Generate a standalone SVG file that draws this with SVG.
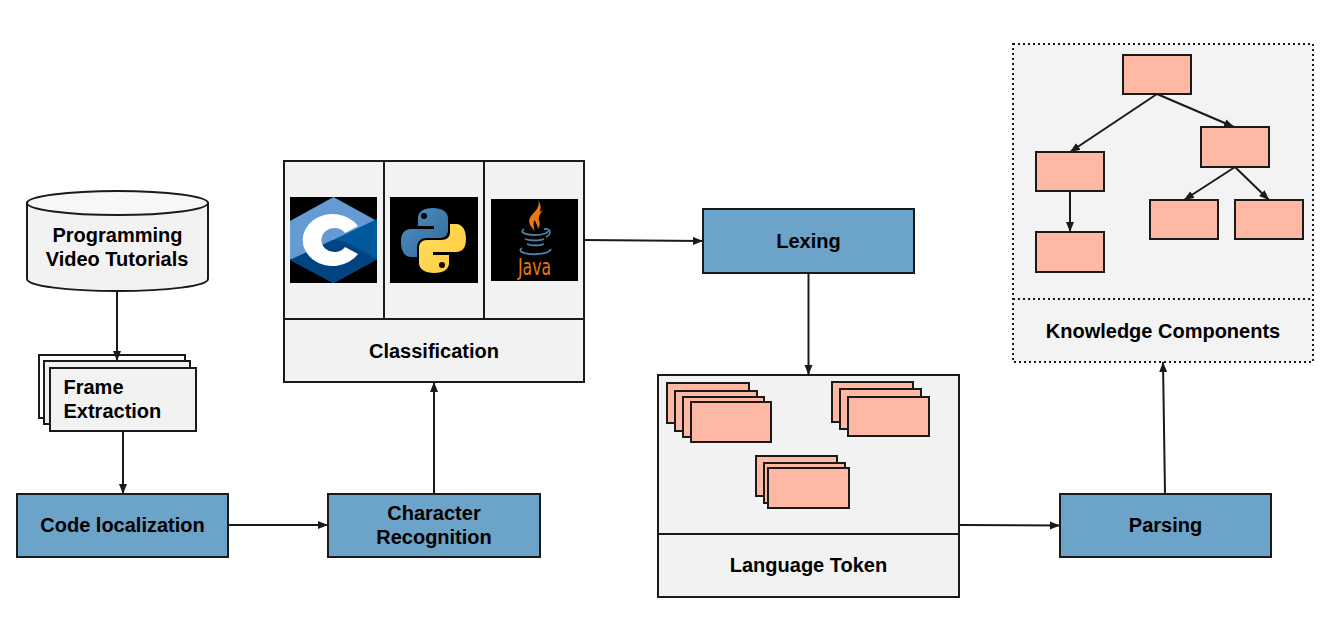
<svg xmlns="http://www.w3.org/2000/svg" width="1335" height="617" viewBox="0 0 1335 617">
<style>
.n{fill:#f2f2f2;stroke:#1a1a1a;stroke-width:2}
.b{fill:#6ba3c9;stroke:#1a1a1a;stroke-width:2}
.s{fill:#ffb8a3;stroke:#1a1a1a;stroke-width:2}
.d{fill:#f3f3f3;stroke:#1a1a1a;stroke-width:2;stroke-dasharray:2 3}
.l{fill:none;stroke:#1a1a1a;stroke-width:2}
.c{stroke:#1a1a1a;stroke-width:2;fill:none;marker-end:url(#a)}
text{font-family:"Liberation Sans",Arial,sans-serif;font-weight:700;font-size:20px;fill:#000;text-anchor:middle}
</style>
<defs>
<marker id="a" markerUnits="userSpaceOnUse" markerWidth="11" markerHeight="9" refX="10" refY="4" orient="auto"><path d="M0 0L10 4L0 8Z" fill="#1a1a1a"/></marker>
<linearGradient id="pb" x1="0" y1="0" x2="1" y2="1"><stop offset="0" stop-color="#4f8fc4"/><stop offset="1" stop-color="#306998"/></linearGradient>
<linearGradient id="py" x1="0" y1="0" x2="1" y2="1"><stop offset="0" stop-color="#ffe060"/><stop offset="1" stop-color="#ffc93a"/></linearGradient>
</defs>
<rect width="1335" height="617" fill="#fff"/>
<g id="tutorials">
<path class="n" d="M27 203V279C27 286 68 291 117.500 291S208 286 208 279V203Z"/>
<ellipse class="n" cx="117.500" cy="203" rx="90.500" ry="12" style="fill:#f7f7f7"/>
<text x="117.500" y="242">Programming</text><text x="117" y="266">Video Tutorials</text>
</g>
<g id="frame-extraction">
<rect class="n" x="39" y="355" width="146" height="63" style="fill:#fff"/>
<rect class="n" x="44" y="361" width="146" height="63" style="fill:#edf0f0"/>
<rect class="n" x="50" y="368" width="146" height="63"/>
<text x="63.500" y="394" style="text-anchor:start">Frame</text><text x="63.500" y="418" style="text-anchor:start">Extraction</text>
</g>
<g id="code-localization"><rect class="b" x="17" y="494" width="211" height="63"/><text x="122.500" y="532">Code localization</text></g>
<g id="character-recognition"><rect class="b" x="328" y="494" width="212" height="63"/><text x="434" y="520">Character</text><text x="434" y="544">Recognition</text></g>
<g id="classification">
<rect class="n" x="284" y="161" width="300" height="221"/>
<path class="l" d="M284 319H584M384 161V319M484 161V319"/>
<text x="434" y="358">Classification</text>
<g id="logo-c">
<rect x="290" y="197" width="87" height="86" fill="#000"/>
<path d="M333.500 197L377 221V259L333.500 283L290 259V221Z" fill="#659ad2"/>
<path d="M377 219V259L333.500 283L290 260L333 240Z" fill="#00599c"/>
<path d="M333 240L290 260L333.500 283L377 259L346 242Z" fill="#004482"/>
<path d="M358 226A30 26 0 1 0 358 254L345 247A13 12 0 1 1 345 233Z" fill="#fff"/>
</g>
<g id="logo-python">
<rect x="390" y="197" width="88" height="86" fill="#000"/>
<path id="py-blue" d="M433 208C423 208 418 212 418 218V226H434V229H411C404 229 401 234 401 242C401 250 404 257 411 257H417V248C417 241 421 238 427 238H440C445 238 448 235 448 230V218C448 212 442 208 433 208Z" fill="url(#pb)"/>
<path d="M434 273C444 273 449 269 449 263V255H433V252H456C463 252 466 247 466 239C466 231 463 224 456 224H450V232C450 237 447 240 441 240H427C422 240 419 243 419 248V263C419 269 425 273 434 273Z" fill="url(#py)"/>
<circle cx="424" cy="216" r="3" fill="#000"/><circle cx="442" cy="265" r="3" fill="#000"/>
</g>
<g id="logo-java">
<rect x="491" y="199" width="87" height="82" fill="#000"/>
<path d="M538 200C541 207 534 212 531 216C527 221 530 226 535 231C533 226 533 222 536 218C540 213 543 207 538 200Z" fill="#e8780f"/>
<path d="M543 210C537 213 533 218 536 223C537 225 538 227 538 229C540 226 540 223 539 220C538 217 540 214 543 210Z" fill="#e8780f"/>
<g fill="none" stroke="#4f7fa3" stroke-width="1.800"><path d="M524 229C519 232 525 235 535 235C543 235 548 233 548 231"/><path d="M544 229C551 228 552 234 546 237"/><path d="M525 239C530 241 540 241 544 239"/><path d="M527 244C532 246 540 246 544 244"/><path d="M522 248C516 252 528 255 537 254C544 254 550 252 551 249"/></g>
<text x="518" y="275" style="text-anchor:start;font-family:'DejaVu Sans Condensed','Liberation Sans',sans-serif;font-weight:400;font-size:23px;fill:#e8780f" textLength="33" lengthAdjust="spacingAndGlyphs">Java</text>
</g>
</g>
<g id="lexing"><rect class="b" x="703" y="209" width="211" height="64"/><text x="808.500" y="248">Lexing</text></g>
<g id="language-token">
<rect class="n" x="658" y="375" width="301" height="222"/>
<path class="l" d="M658 534H959"/>
<rect class="s" x="667" y="383" width="82" height="40"/><rect class="s" x="675" y="391" width="82" height="40"/><rect class="s" x="683" y="397" width="81" height="40"/><rect class="s" x="691" y="402" width="80" height="40"/>
<rect class="s" x="832" y="382" width="81" height="40"/><rect class="s" x="840" y="389" width="81" height="40"/><rect class="s" x="848" y="397" width="81" height="39"/>
<rect class="s" x="756" y="456" width="81" height="40"/><rect class="s" x="764" y="463" width="81" height="40"/><rect class="s" x="768" y="468" width="81" height="40"/>
<text x="808.500" y="572">Language Token</text>
</g>
<g id="parsing"><rect class="b" x="1060" y="494" width="211" height="63"/><text x="1165.500" y="532">Parsing</text></g>
<g id="knowledge-components">
<rect class="d" x="1013" y="44" width="300" height="318"/>
<path class="l" d="M1013 299H1313" style="stroke-dasharray:2 3"/>
<rect class="s" x="1123" y="55" width="68" height="39"/>
<rect class="s" x="1201" y="127" width="68" height="40"/>
<rect class="s" x="1036" y="152" width="68" height="39"/>
<rect class="s" x="1036" y="232" width="68" height="40"/>
<rect class="s" x="1150" y="200" width="68" height="39"/>
<rect class="s" x="1235" y="200" width="68" height="39"/>
<text x="1163" y="338">Knowledge Components</text>
</g>
<g id="connectors">
<path class="c" d="M117 291V361"/>
<path class="c" d="M123 431V494"/>
<path class="c" d="M228 525H328"/>
<path class="c" d="M434 494V382"/>
<path class="c" d="M584 240L703 241"/>
<path class="c" d="M808.500 273V375"/>
<path class="c" d="M959 525L1060 525.500"/>
<path class="c" d="M1165 494L1163 362"/>
<path class="c" d="M1157 94L1070 152"/>
<path class="c" d="M1157 94L1234 127"/>
<path class="c" d="M1070 191V232"/>
<path class="c" d="M1235 167L1184 200"/>
<path class="c" d="M1235 167L1269 200"/>
</g>
</svg>
